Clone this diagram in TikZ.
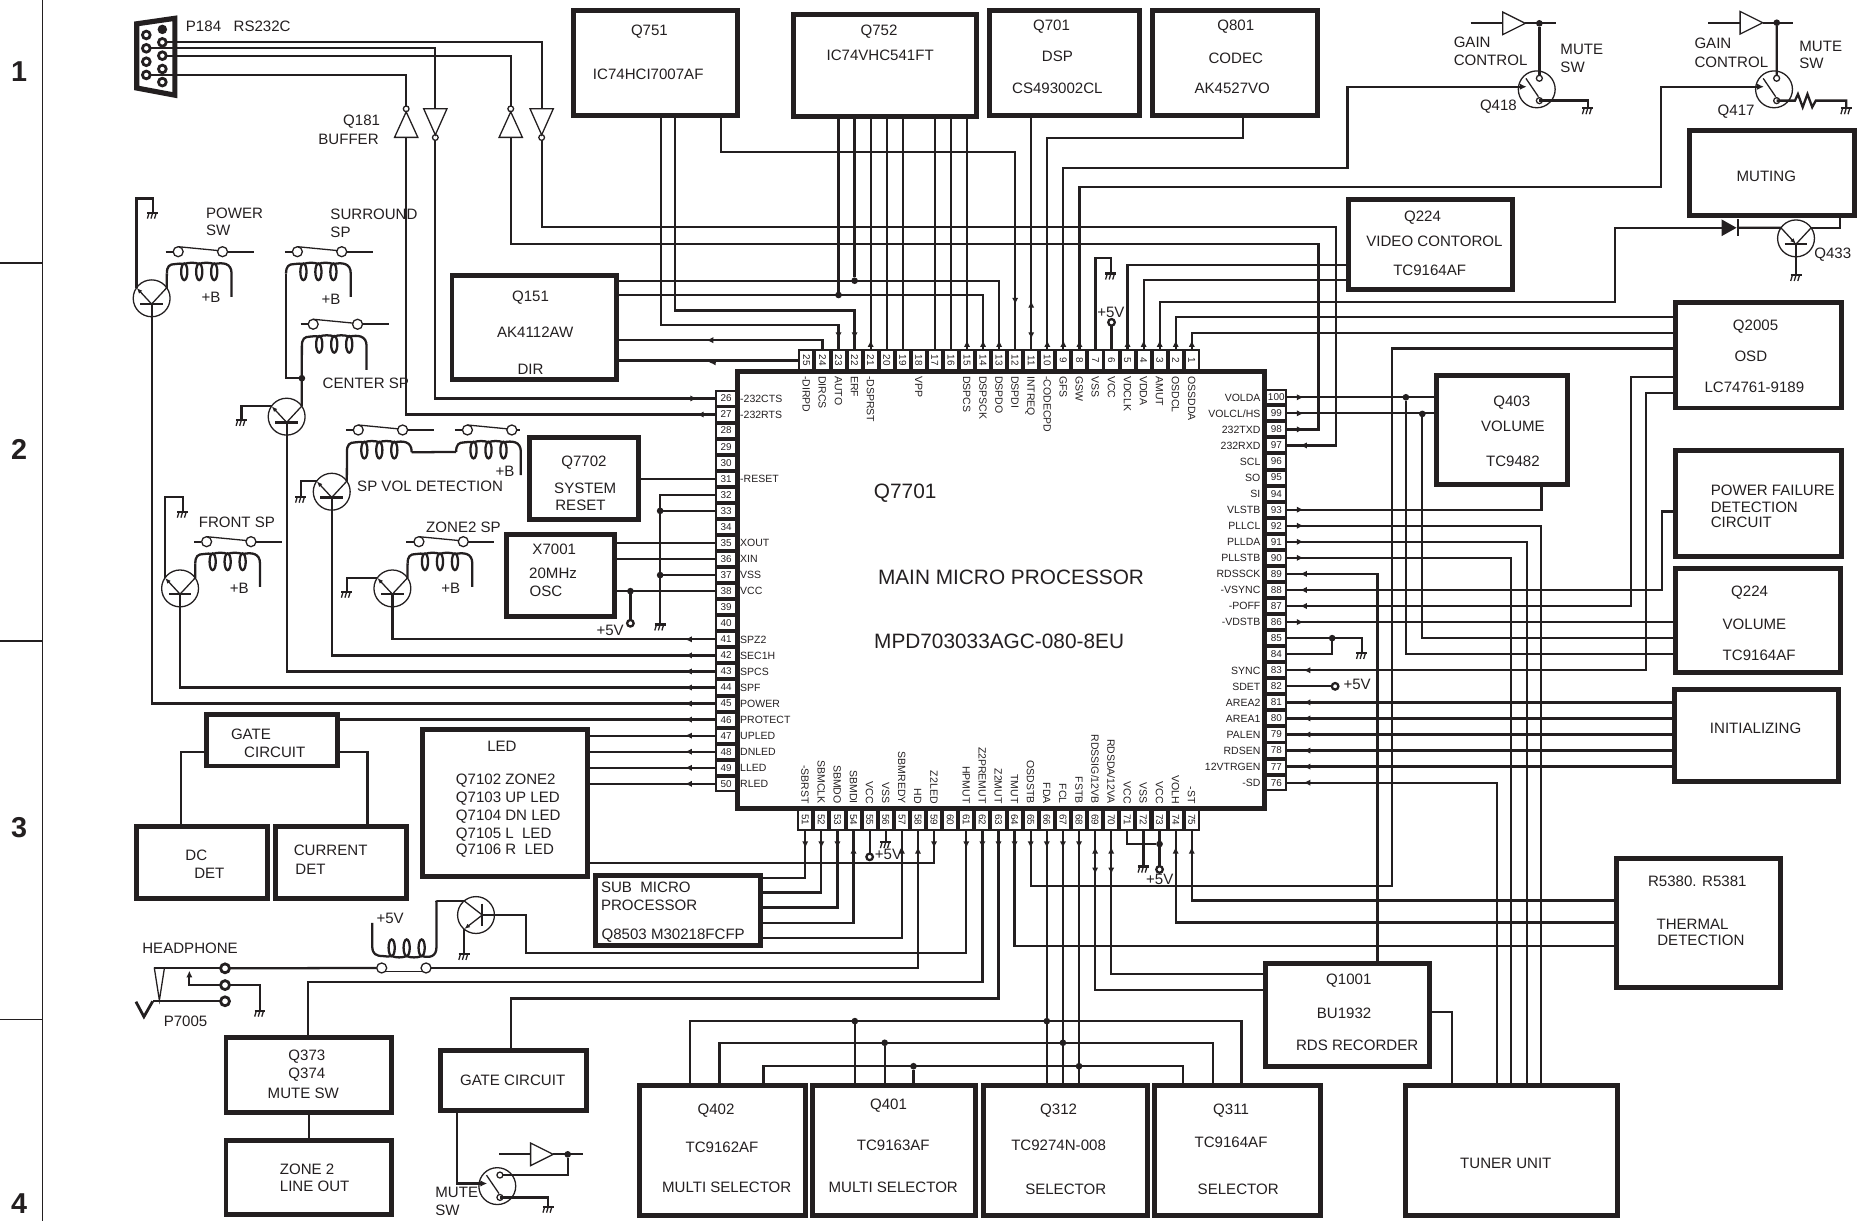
\documentclass[tikz,border=0pt]{standalone}
\usepackage{fontspec}
\setmainfont{Liberation Sans}
\usepackage{graphicx}
\usetikzlibrary{arrows.meta, calc}
\definecolor{ink}{RGB}{35, 31, 32}
\def\unit{.6pt}
\newcommand{\qnpn}[3]{%
  \node[trans] (#1) at (#2,#3) {};
  \coordinate (#1b) at ($(#1)+(0,4.8)$);
  \draw[wire] ($(#1b)+(-9.5,0)$) -- ($(#1b)+(9.5,0)$);
  \draw[wire] (#1b) -- (#1.south);
  \draw[hair, -{Latex[length=3pt,width=2.2pt]}] (#1b) -- (#1.145);
  \draw[hair] (#1b) -- (#1.35);
}
\begin{document}
\begin{tikzpicture}[x=.6pt, y=-.6pt, color=ink,
    wire/.style={line width=1.15pt},
    hair/.style={line width=.65pt},
    flow/.style={line width=1.15pt, -{Latex[length=3.4pt,width=3.2pt]}},
    blk/.style 2 args={draw, line width=2.5pt, minimum width=#1*\unit, minimum height=#2*\unit,
                       inner sep=0pt, outer sep=0pt},
    pinv/.style={draw, line width=1.1pt, minimum width=12*\unit, minimum height=17*\unit,
                 inner sep=0pt, outer sep=0pt, font=\fontsize{5}{5}\selectfont},
    pinh/.style={pinv, minimum width=17*\unit, minimum height=12*\unit},
    pintxt/.style={inner sep=0pt, text height=3.8pt, text depth=0pt, font=\fontsize{5.3}{6}\selectfont},
    txt/.style={inner sep=0pt, text height=5.5pt, text depth=0pt, font=\fontsize{7.6}{9}\selectfont},
    bigtxt/.style={inner sep=0pt, text height=7.6pt, text depth=0pt, font=\fontsize{10.5}{12}\selectfont},
    zone/.style={inner sep=0pt, font=\fontsize{14.5}{16}\selectfont\bfseries},
    trans/.style={circle, draw, line width=.65pt, minimum size=31*\unit, inner sep=0pt, outer sep=0pt},
    jdot/.style={circle, fill, minimum size=5.6*\unit, inner sep=0pt, outer sep=0pt},
    term/.style={circle, draw, fill=white, line width=1.15pt, minimum size=5.5*\unit, inner sep=0pt, outer sep=0pt},
    jackterm/.style={term, line width=1.4pt, minimum size=7.5*\unit},
    contact/.style={circle, draw, fill=white, line width=.65pt, minimum size=8.4*\unit, inner sep=0pt, outer sep=0pt},
    gnd/.pic={
      \coordinate (-a) at (0,0);
      \draw[wire] (-4.6,0) -- (4.6,0);
      \foreach \h in {-3,0,3} \draw[hair] (\h,0) -- (\h-1.5,5);
    },
    invup/.pic={
      \coordinate (-a) at (0,-26.5);
      \coordinate (-b) at (0,0);
      \draw[hair] (-9.8,0) -- (9.8,0) -- (0,-21.5) -- cycle;
      \draw[hair] (0,-24) circle (2.4);
    },
    invdown/.pic={
      \coordinate (-a) at (0,0);
      \coordinate (-b) at (0,26.5);
      \draw[hair] (-9.8,0) -- (9.8,0) -- (0,22) -- cycle;
      \draw[hair] (0,24.2) circle (2.4);
    },
    ampl/.pic={
      \coordinate (-in) at (0,0);
      \coordinate (-out) at (19,0);
      \draw[hair] (0,-9.5) -- (0,9.5) -- (19,0) -- cycle;
    },
    diode/.pic={
      \coordinate (-a) at (0,0);
      \coordinate (-b) at (13.5,0);
      \fill (0,-7) -- (0,7) -- (12.5,0) -- cycle;
      \draw[wire] (13.5,-7) -- (13.5,7);
    },
    muteswitch/.pic={
      \coordinate (-in) at (-8.5,-2.2);
      \coordinate (-top) at (2.2,-11.8);
      \coordinate (-bot) at (2.2,9.5);
      \draw[hair] (0,0) circle (15.5);
      \draw[hair] (-9.1,-9.2) -- (1.4,6.2);
      \draw[hair, fill=white] (2.2,-9.3) circle (2.5);
      \draw[hair, fill=white] (2.2,9.5) circle (2.5);
    },
    pics/relaysw/.style 2 args={code={
      \coordinate (-l) at (0,8);
      \coordinate (-r) at (54.4,#2);
      \draw[wire] (-1,-10.4) -- (5,-10.4);
      \draw[wire] (51,-10.4) -- (#1,-10.4);
      \draw[hair] (9.5,-14.6) -- (46.8,-11);
      \draw[hair, fill=white] (9.5,-10.4) circle (4.2);
      \draw[hair, fill=white] (46.8,-10.4) circle (4.2);
      \draw[wire] (0,8) .. controls (0,2) and (2,0) .. (7,0)
        .. controls (10,0) and (12,-1) .. (14.6,0)
        .. controls (18,-1.5) and (24,-1.5) .. (27.2,0)
        .. controls (30,-1.5) and (36,-1.5) .. (39.8,0)
        .. controls (47,-1.5) and (54.4,-1) .. (54.4,8) -- (-r);
      \foreach \c in {14.6,27.2,39.8} \draw[wire] (\c,6.5) ellipse (2.6 and 7);
    }},
    hpcoil/.pic={
      \coordinate (-l) at (0,-28);
      \coordinate (-r) at (54,-46.5);
      \draw[wire] (-l) -- (0,-8) .. controls (0,-2) and (3,0) .. (9,0)
        .. controls (12,0) and (14,1) .. (16.3,0)
        .. controls (20,1.5) and (25,1.5) .. (28.9,0)
        .. controls (32,1.5) and (38,1.5) .. (41.5,0)
        .. controls (48,1.5) and (54,1) .. (54,-8) -- (-r);
      \foreach \c in {16.3,28.9,41.5} \draw[wire] (\c,-7) ellipse (2.6 and 7);
    },
]
  \useasboundingbox (0,0) rectangle (1568,1026.6);

  \coordinate (stripa) at (36,0);
  \coordinate (stripb) at (36,1026.6);
  \draw[hair] (stripa) -- (stripb);
  \foreach \i in {221,539,857} \draw[hair] (0,\i) -- (36,\i);
  \node[zone] (z1) at (16,60)   {1};
  \node[zone] (z2) at (16,378)  {2};
  \node[zone] (z3) at (16,696)  {3};
  \node[zone] (z4) at (16,1012) {4};

  \node[blk={443}{368}] (q7701)  at (841.5,496)  {};
  \node[blk={138}{88}]  (q751)   at (551,53)     {};
  \node[blk={154}{86}]  (q752)   at (744,55)     {};
  \node[blk={126}{88}]  (q701)   at (895,53)     {};
  \node[blk={139}{88}]  (q801)   at (1038.5,53)  {};
  \node[blk={138}{75}]  (q224a)  at (1203,205.5) {};
  \node[blk={138}{87}]  (q151)   at (449,275.5)  {};
  \node[blk={92}{69}]   (q7702)  at (491,402.5)  {};
  \node[blk={91}{69}]   (x7001)  at (471.5,483.5) {};
  \node[blk={139}{124}] (led)    at (424.5,675)  {};
  \node[blk={110}{43}]  (gate1)  at (229,622.5)  {};
  \node[blk={110}{60}]  (dcdet)  at (170,725)    {};
  \node[blk={110}{60}]  (curdet) at (287,725)    {};
  \node[blk={138}{59}]  (sub)    at (570,765.5)  {};
  \node[blk={139}{63}]  (q373)   at (259.5,903.5) {};
  \node[blk={139}{62}]  (zone2)  at (259.5,990)  {};
  \node[blk={123}{51}]  (gate2)  at (431.5,908.5) {};
  \node[blk={139}{109}] (q402)   at (607.5,967.5) {};
  \node[blk={137}{109}] (q401)   at (751.5,967.5) {};
  \node[blk={138}{109}] (q312)   at (896,967.5)  {};
  \node[blk={139}{109}] (q311)   at (1040.5,967.5) {};
  \node[blk={178}{109}] (tuner)  at (1271,967.5) {};
  \node[blk={138}{87}]  (q1001)  at (1133,853.5) {};
  \node[blk={138}{108}] (r5380)  at (1428,776)   {};
  \node[blk={138}{77}]  (init)   at (1477,618.5) {};
  \node[blk={138}{87}]  (q224b)  at (1478,521.5) {};
  \node[blk={139}{89}]  (pfail)  at (1478.5,423.5) {};
  \node[blk={139}{89}]  (q2005)  at (1478.5,298.5) {};
  \node[blk={110}{91}]  (q403)   at (1263,361.5) {};
  \node[blk={139}{71}]  (muting) at (1490,145.5) {};

  \foreach \n in {1,...,25} {
    \pgfmathsetmacro\pos{1002-(\n-1)*13.5}
    \node[pinv] (p\n) at (\pos,303) {\rotatebox{-90}{\n}};
  }
  \foreach \n in {26,...,50} {
    \pgfmathsetmacro\pos{335+(\n-26)*13.5}
    \node[pinh] (p\n) at (610.5,\pos) {\n};
  }
  \foreach \n in {51,...,75} {
    \pgfmathsetmacro\pos{677+(\n-51)*13.54}
    \node[pinv] (p\n) at (\pos,689) {\rotatebox{-90}{\n}};
  }
  \foreach \n in {76,...,100} {
    \pgfmathsetmacro\pos{334+(100-\n)*13.5}
    \node[pinh] (p\n) at (1073,\pos) {\n};
  }

  \foreach \n/\t in {25/-DIRPD,24/DIRCS,23/AUTO,22/ERF,21/-DSPRST,18/VPP,15/DSPCS,14/DSPSCK,13/DSPDO,
                     12/DSPDI,11/INTREQ,10/-CODECPD,9/GFS,8/GSW,7/VSS,6/VCC,5/VDCLK,4/VDDA,3/AMUT,
                     2/OSDCL,1/OSSDDA}
    \node[pintxt, rotate=-90, anchor=west] (l\n) at (p\n.south |- 0,316) {\t};
  \foreach \n/\t in {26/-232CTS,27/-232RTS,31/-RESET,35/XOUT,36/XIN,37/VSS,38/VCC,41/SPZ2,42/SEC1H,43/SPCS,
                     44/SPF,45/POWER,46/PROTECT,47/UPLED,48/DNLED,49/LLED,50/RLED}
    \node[pintxt, anchor=west] (l\n) at (p\n.east -| 622,0) {\t};
  \foreach \n/\t in {51/-SBRST,52/SBMCLK,53/SBMDO,54/SBMDI,55/VCC,56/VSS,57/SBMREDY,58/HD,59/Z2LED,61/HPMUT,
                     62/Z2PREMUT,63/Z2MUT,64/TMUT,65/OSDSTB,66/FDA,67/FCL,68/FSTB,71/VCC,72/VSS,73/VCC,
                     74/VOLH,75/-ST}
    \node[pintxt, rotate=-90, anchor=east] (l\n) at (p\n.north |- 0,676) {\t};
  \node[pintxt, rotate=-90, anchor=east] (l69) at (p69.north |- 0,676) {RDSSIG/12VB};
  \node[pintxt, rotate=-90, anchor=east] (l70) at (p70.north |- 0,676) {RDSDA/12VA};
  \foreach \n/\t in {100/VOLDA,98/232TXD,97/232RXD,96/SCL,95/SO,94/SI,93/VLSTB,92/PLLCL,91/PLLDA,90/PLLSTB,
                     89/RDSSCK,88/-VSYNC,87/-POFF,86/-VDSTB,83/SYNC,82/SDET,81/AREA2,80/AREA1,79/PALEN,
                     78/RDSEN,77/12VTRGEN,76/-SD}
    \node[pintxt, anchor=east] (l\n) at (p\n.west -| 1060,0) {\t};
  \node[pintxt, anchor=east] (l99) at (p99.west -| 1060,0) {VOLCL/HS};

  \node[bigtxt] (t7701a) at (761,413) {Q7701};
  \node[bigtxt] (t7701b) at (850,485) {MAIN MICRO PROCESSOR};
  \node[bigtxt] (t7701c) at (840,539) {MPD703033AGC-080-8EU};
  \node[txt] (t751a) at (546,25) {Q751};
  \node[txt] (t751b) at (545,62) {IC74HCI7007AF};
  \node[txt] (t752a) at (739,25) {Q752};
  \node[txt] (t752b) at (740,46) {IC74VHC541FT};
  \node[txt] (t701a) at (884,21) {Q701};
  \node[txt] (t701b) at (889,47) {DSP};
  \node[txt] (t701c) at (889,74) {CS493002CL};
  \node[txt] (t801a) at (1039,21) {Q801};
  \node[txt] (t801b) at (1039,49) {CODEC};
  \node[txt] (t801c) at (1036,74) {AK4527VO};
  \node[txt] (t224a) at (1196,182) {Q224};
  \node[txt] (t224b) at (1206,203) {VIDEO CONTOROL};
  \node[txt] (t224c) at (1202,227) {TC9164AF};
  \node[txt] (t151a) at (446,249) {Q151};
  \node[txt] (t151b) at (450,279) {AK4112AW};
  \node[txt] (t151c) at (446,310) {DIR};
  \node[txt] (t7702a) at (491,388) {Q7702};
  \node[txt] (t7702b) at (492,410) {SYSTEM};
  \node[txt] (t7702c) at (488,425) {RESET};
  \node[txt] (tx701a) at (466,462) {X7001};
  \node[txt] (tx701b) at (465,482) {20MHz};
  \node[txt] (tx701c) at (459,497) {OSC};
  \node[txt] (tleda) at (422,627) {LED};
  \node[txt, anchor=west] (tledb) at (383,655) {Q7102 ZONE2};
  \node[txt, anchor=west] (tledc) at (383,670) {Q7103 UP LED};
  \node[txt, anchor=west] (tledd) at (383,685) {Q7104 DN LED};
  \node[txt, anchor=west] (tlede) at (383,700) {Q7105 L\ \ LED};
  \node[txt, anchor=west] (tledf) at (383,714) {Q7106 R\ \ LED};
  \node[txt] (tgate1a) at (211,617) {GATE};
  \node[txt] (tgate1b) at (231,632) {CIRCUIT};
  \node[txt] (tdca) at (165,719) {DC};
  \node[txt] (tdcb) at (176,734) {DET};
  \node[txt] (tcura) at (278,715) {CURRENT};
  \node[txt] (tcurb) at (261,731) {DET};
  \node[txt, anchor=west] (tsuba) at (505,746) {SUB\ \ MICRO};
  \node[txt, anchor=west] (tsubb) at (505,761) {PROCESSOR};
  \node[txt] (tsubc) at (566,785) {Q8503 M30218FCFP};
  \node[txt] (t373a) at (258,887) {Q373};
  \node[txt] (t373b) at (258,902) {Q374};
  \node[txt] (t373c) at (255,919) {MUTE SW};
  \node[txt, anchor=west] (tzonea) at (235,983) {ZONE 2};
  \node[txt, anchor=west] (tzoneb) at (235,997) {LINE OUT};
  \node[txt] (tgate2) at (431,908) {GATE CIRCUIT};
  \node[txt] (t402a) at (602,932) {Q402};
  \node[txt] (t402b) at (607,964) {TC9162AF};
  \node[txt] (t402c) at (611,998) {MULTI SELECTOR};
  \node[txt] (t401a) at (747,928) {Q401};
  \node[txt] (t401b) at (751,963) {TC9163AF};
  \node[txt] (t401c) at (751,998) {MULTI SELECTOR};
  \node[txt] (t312a) at (890,932) {Q312};
  \node[txt] (t312b) at (890,963) {TC9274N-008};
  \node[txt] (t312c) at (896,1000) {SELECTOR};
  \node[txt] (t311a) at (1035,932) {Q311};
  \node[txt] (t311b) at (1035,960) {TC9164AF};
  \node[txt] (t311c) at (1041,1000) {SELECTOR};
  \node[txt] (ttuner) at (1266,978) {TUNER UNIT};
  \node[txt] (t1001a) at (1134,823) {Q1001};
  \node[txt] (t1001b) at (1130,852) {BU1932};
  \node[txt] (t1001c) at (1141,879) {RDS RECORDER};
  \node[txt] (t5380a) at (1427,741) {R5380. R5381};
  \node[txt] (t5380b) at (1423,777) {THERMAL};
  \node[txt] (t5380c) at (1430,790) {DETECTION};
  \node[txt] (tinit) at (1476,612) {INITIALIZING};
  \node[txt] (t224d) at (1471,497) {Q224};
  \node[txt] (t224e) at (1475,525) {VOLUME};
  \node[txt] (t224f) at (1479,551) {TC9164AF};
  \node[txt, anchor=west] (tpfa) at (1438,412) {POWER FAILURE};
  \node[txt, anchor=west] (tpfb) at (1438,426) {DETECTION};
  \node[txt, anchor=west] (tpfc) at (1438,439) {CIRCUIT};
  \node[txt] (t2005a) at (1476,273) {Q2005};
  \node[txt] (t2005b) at (1472,299) {OSD};
  \node[txt] (t2005c) at (1475,325) {LC74761-9189};
  \node[txt] (t403a) at (1271,337) {Q403};
  \node[txt] (t403b) at (1272,358) {VOLUME};
  \node[txt] (t403c) at (1272,388) {TC9482};
  \node[txt] (tmuting) at (1485,148) {MUTING};

  \node[txt, anchor=west] (tp184) at (156,22) {P184\ \ \ RS232C};
  \node[txt] (tq181a) at (304,101) {Q181};
  \node[txt] (tq181b) at (293,117) {BUFFER};
  \node[txt, anchor=west] (tpowa) at (173,179) {POWER};
  \node[txt, anchor=west] (tpowb) at (173,193) {SW};
  \node[txt, anchor=west] (tsura) at (277.5,180) {SURROUND};
  \node[txt, anchor=west] (tsurb) at (277.5,195) {SP};
  \node[txt] (tb1) at (177.4,250) {+B};
  \node[txt] (tb2) at (278.3,251) {+B};
  \node[txt, anchor=west] (tcen) at (271,322) {CENTER SP};
  \node[txt] (tb3) at (424.6,396) {+B};
  \node[txt, anchor=west] (tvol) at (300,408.3) {SP VOL DETECTION};
  \node[txt, anchor=west] (tfro) at (166.8,438.5) {FRONT SP};
  \node[txt] (tb4) at (201.2,494.7) {+B};
  \node[txt, anchor=west] (tz2) at (358,443.5) {ZONE2 SP};
  \node[txt] (tb5) at (379,494.7) {+B};
  \node[txt] (thp) at (159.8,796.8) {HEADPHONE};
  \node[txt] (tp7005) at (156,858.5) {P7005};
  \node[txt] (tv1) at (328,772) {+5V};
  \node[txt, anchor=west] (tmutea) at (365.7,1002.5) {MUTE};
  \node[txt, anchor=west] (tmuteb) at (365.7,1017.4) {SW};
  \node[txt, anchor=west] (tgaina) at (1221.9,35) {GAIN};
  \node[txt, anchor=west] (tgainb) at (1221.9,50.4) {CONTROL};
  \node[txt, anchor=west] (tm418a) at (1311.6,41.2) {MUTE};
  \node[txt, anchor=west] (tm418b) at (1311.6,56) {SW};
  \node[txt] (tq418) at (1259.8,88.3) {Q418};
  \node[txt, anchor=west] (tgainc) at (1424.3,36.4) {GAIN};
  \node[txt, anchor=west] (tgaind) at (1424.3,51.8) {CONTROL};
  \node[txt, anchor=west] (tm417a) at (1512.5,38.4) {MUTE};
  \node[txt, anchor=west] (tm417b) at (1512.5,53.2) {SW};
  \node[txt] (tq417) at (1459.6,92.5) {Q417};
  \node[txt, anchor=west] (tq433) at (1525,212.4) {Q433};
  \node[txt] (tv6) at (934,262) {+5V};
  \node[txt] (tv38) at (513,530) {+5V};
  \node[txt] (tv55) at (747,718) {+5V};
  \node[txt] (tv73) at (975,739) {+5V};
  \node[txt] (tv82) at (1141,575) {+5V};

  \draw[line width=2.6pt, fill=white] (115,20) -- (147,15.4) -- (147,80) -- (115,74) -- cycle;
  \foreach \n/\x/\y in {ca/123/29.4,cb/123/40.6,cc/123/51.9,cd/123/63,ce/136.5/35.6,cf/136.5/46.8,cg/136.5/58,ch/136.5/69}
    \node[jackterm, minimum size=6.5*\unit] (\n) at (\x,\y) {};
  \node[jdot, minimum size=8*\unit] (ci) at (136.5,24.7) {};

  \pic (b1) at (341.5,115.5) {invup};
  \pic (b2) at (366,91.4)    {invdown};
  \pic (b3) at (429.4,115.5) {invup};
  \pic (b4) at (455.4,91.4)  {invdown};
  \draw[wire] (cd.east) -| (b1-a);
  \draw[wire] (cb.east) -| (b2-a);
  \draw[wire] (cf.east) -| (b3-a);
  \draw[wire] (ce.east) -| (b4-a);
  \draw[wire] (p27.west) -| (b1-b);
  \draw[wire] (p26.west) -| (b2-b);
  \draw[wire] (p98.east) -| (1108.5,205.4) -| (b3-b);
  \draw[wire] (p97.east) -| (1123.3,191) -| (b4-b);

  \draw[wire] (p25.west) -- (q151.east |- p25.west);
  \draw[wire] (p24.north) |- (q151.east |- 0,286);
  \draw[wire] (p23.north) |- (555.7,273) -- (q751.south -| 555.7,0);
  \draw[wire] (p22.north) |- (567.5,261) -- (q751.south -| 567.5,0);
  \foreach \n in {21,20,19,17,16,15}
    \draw[wire] (p\n.north) -- (q752.south -| p\n.north);
  \node[jdot] (d23) at (705,248) {};
  \node[jdot] (d22) at (718.5,236) {};
  \draw[wire] (d23) -- (q752.south -| d23);
  \draw[wire] (d22) -- (q752.south -| d22);
  \draw[wire] (p14.north) |- (q151.east |- 0,248);
  \draw[wire] (p13.north) |- (q151.east |- 0,236);
  \draw[wire] (p12.north) |- (606,128) -- (q751.south -| 606,0);
  \draw[wire] (p11.north) -- (q701.south -| p11.north);
  \draw[wire] (p10.north) |- (1045,116) -- (q801.south -| 1045,0);

  \pic (q418) at (1292,75.1) {muteswitch};
  \pic (q417) at (1491.5,75.1) {muteswitch};
  \pic (a418) at (1263.4,19.6) {ampl};
  \pic (a417) at (1463,19.1) {ampl};
  \node[jdot] (d418) at (1294.2,19.6) {};
  \node[jdot] (d417) at (1493.8,19.1) {};
  \coordinate (a418l) at (1236.5,19.6);
  \coordinate (a418r) at (1308.2,19.6);
  \coordinate (a417l) at (1436.3,19.1);
  \coordinate (a417r) at (1507.8,19.1);
  \draw[wire] (a418l) -- (a418-in);
  \draw[wire] (a418-out) -- (a418r);
  \draw[wire] (a417l) -- (a417-in);
  \draw[wire] (a417-out) -- (a417r);
  \draw[wire] (d418) -- (q418-top);
  \draw[wire] (d417) -- (q417-top);
  \pic (g418) at (1334.9,91) {gnd};
  \pic (g417) at (1552.2,91) {gnd};
  \draw[wire] (q418-bot) -| (g418-a);
  \draw[wire] (q417-bot) -- ++(15.4,0) -- ++(2.5,-5.5) -- ++(4,11) -- ++(4,-11) -- ++(4,11) -- ++(3,-5.5) -| (g417-a);
  \draw[flow] (p9.north) |- (1133,141.5) |- (q418-in);
  \draw[flow] (p8.north) |- (1396.5,157.5) |- (q417-in);

  \pic (g7) at (934,230) {gnd};
  \draw[wire] (p7.north) |- (g7-a |- 0,217) -- (g7-a);
  \node[term] (v6) at (934.5,271) {};
  \draw[wire] (p6.north) -- (v6);
  \draw[wire] (p5.north) |- (q224a.west |- 0,222.8);
  \draw[wire] (p4.north) |- (q224a.west |- 0,235.4);
  \pic (dio) at (1447.5,191.5) {diode};
  \draw[wire] (p3.north) |- (1358,253.7) |- (dio-a);
  \draw[wire] (p2.north) |- (q2005.west |- 0,266.8);
  \draw[wire] (p1.north) |- (q2005.west |- 0,279.8);
  \node[trans] (q433) at (1510,200.4) {};
  \coordinate (q433b) at (1510,205.2);
  \draw[wire] (1500.5,205.2) -- (1519.5,205.2);
  \draw[hair, -{Latex[length=3pt,width=2.2pt]}] (q433.145) -- (q433b);
  \draw[hair] (q433b) -- (q433.35);
  \draw[wire] (dio-b) -- (q433.145);
  \draw[wire] (muting.south -| 1547,0) |- (q433.35);
  \pic (g433) at (1510,231.2) {gnd};
  \draw[wire] (q433b) -- (g433-a);
  \draw[wire] (p65.south) |- (1170.5,745) |- (q2005.west |- 0,293);

  \node[jdot] (d100) at (1182,334) {};
  \node[jdot] (d99) at (1195.8,348) {};
  \draw[wire] (p100.east) -- (q403.west |- p100.east);
  \draw[wire] (p99.east) -- (q403.west |- p99.east);
  \draw[wire] (d100) |- (q224b.west |- 0,550);
  \draw[wire] (d99) |- (q224b.west |- 0,536.6);
  \draw[wire] (p93.east) -| (q403.south -| 1296,0);
  \draw[wire] (p92.east) -| (tuner.north -| 1295.3,0);
  \draw[wire] (p91.east) -| (tuner.north -| 1283.6,0);
  \draw[wire] (p90.east) -| (tuner.north -| 1270.6,0);
  \draw[wire] (p76.east) -| (tuner.north -| 1258.4,0);
  \draw[wire] (p89.east) -| (q1001.north -| 1158,0);
  \draw[wire] (p88.east) -| (1397,430) -- (pfail.west |- 0,430);
  \draw[wire] (p87.east) -| (1371.3,317) -- (q2005.west |- 0,317);
  \draw[wire] (p83.east) -| (1383.6,330.6) -- (q2005.west |- 0,330.6);
  \draw[wire] (p86.east) -- (q224b.west |- p86.east);
  \pic (g85) at (1145,549) {gnd};
  \node[jdot] (d85) at (p85.east -| 1120,0) {};
  \draw[wire] (p85.east) -| (g85-a);
  \draw[wire] (p84.east) -| (d85);
  \node[term] (v82) at (1122.5,577) {};
  \draw[wire] (p82.east) -- (v82);
  \foreach \n in {81,...,77}
    \draw[wire] (p\n.east) -- (init.west |- p\n.east);

  \draw[wire] (p51.south) |- (sub.east |- 0,738);
  \draw[wire] (p52.south) |- (sub.east |- 0,750.3);
  \draw[wire] (p53.south) |- (sub.east |- 0,763);
  \draw[wire] (p54.south) |- (sub.east |- 0,775.7);
  \draw[wire] (p57.south) |- (sub.east |- 0,788.8);
  \node[term] (v55) at (p55.south |- 0,720.4) {};
  \draw[wire] (p55.south) -- (v55);
  \pic (g56) at (p56.south |- 0,708) {gnd};
  \draw[wire] (p56.south) -- (g56-a);
  \draw[wire] (p59.south) |- (led.east |- 0,725.8);
  \draw[wire] (p62.south) |- (259,825.4) -- (q373.north -| 259,0);
  \draw[wire] (p63.south) |- (429.7,839.4) -- (gate2.north -| 429.7,0);
  \draw[wire] (p64.south) |- (r5380.west |- 0,795.4);
  \draw[wire] (p74.south) |- (r5380.west |- 0,775.5);
  \draw[wire] (p75.south) |- (r5380.west |- 0,757);
  \foreach \n in {66,67,68}
    \draw[wire] (p\n.south) -- (q312.north -| p\n.south);
  \draw[wire] (q402.north -| 580,0) |- (1043.7,858.5) -- (q311.north -| 1043.7,0);
  \draw[wire] (q402.north -| 605,0) |- (1020,876.7) -- (q311.north -| 1020,0);
  \draw[wire] (q402.north -| 642,0) |- (994.8,896.4) -- (q311.north -| 994.8,0);
  \node[jdot] (d66) at (p66.south |- 0,858.5) {};
  \node[jdot] (d67) at (p67.south |- 0,876.7) {};
  \node[jdot] (d68) at (p68.south |- 0,896.4) {};
  \node[jdot] (d401a) at (718.7,858.5) {};
  \node[jdot] (d401b) at (743.8,876.7) {};
  \node[jdot] (d401c) at (768,896.4) {};
  \draw[wire] (d401a) -- (q401.north -| d401a);
  \draw[wire] (d401b) -- (q401.north -| d401b);
  \draw[wire] (d401c) -- (q401.north -| d401c);
  \draw[wire] (p69.south) |- (q1001.west |- 0,832.4);
  \draw[wire] (p70.south) |- (q1001.west |- 0,819);
  \node[jdot] (d73) at (p73.south |- 0,709.6) {};
  \draw[wire] (p71.south) |- (d73);
  \node[term] (v73) at (p73.south |- 0,731) {};
  \draw[wire] (p73.south) -- (v73);
  \pic (g72) at (p72.south |- 0,728.6) {gnd};
  \draw[wire] (p72.south) -- (g72-a);
  \draw[wire] (q1001.east |- 0,850.6) -| (tuner.north -| 1220.6,0);

  \draw[wire] (p31.west) -- (q7702.east |- p31.west);
  \pic (g32) at (555,525) {gnd};
  \node[jdot] (d33) at (p33.west -| 555,0) {};
  \node[jdot] (d37) at (p37.west -| 555,0) {};
  \draw[wire] (p32.west) -| (g32-a);
  \draw[wire] (p33.west) -- (d33);
  \draw[wire] (p37.west) -- (d37);
  \draw[wire] (p35.west) -- (x7001.east |- p35.west);
  \draw[wire] (p36.west) -- (x7001.east |- p36.west);
  \draw[wire] (p38.west) -- (x7001.east |- p38.west);
  \node[jdot] (d38) at (p38.west -| 530,0) {};
  \node[term] (v38) at (530,524) {};
  \draw[wire] (d38) -- (v38);
  \draw[wire] (p46.west) -- (gate1.east |- p46.west);
  \foreach \n in {47,...,50}
    \draw[wire] (p\n.west) -- (led.east |- p\n.west);
  \draw[wire] (gate1.west |- 0,632) -| (dcdet.north -| 152,0);
  \draw[wire] (gate1.east |- 0,632) -| (curdet.north -| 309,0);
  \draw[wire] (q373.south) -- (zone2.north);

  \qnpn{t1}{127.5}{250.8}
  \qnpn{t2}{241}{350.3}
  \qnpn{t3}{278.9}{413.4}
  \qnpn{t4}{151.4}{494.7}
  \qnpn{t5}{329.9}{494.7}
  \draw[wire] (p45.west) -| (t1.south);
  \draw[wire] (p43.west) -| (t2.south);
  \draw[wire] (p42.west) -| (t3.south);
  \draw[wire] (p44.west) -| (t4.south);
  \draw[wire] (p41.west) -| (t5.south);
  \pic (r1) at (140.3,222)   {relaysw={73}{27.5}};
  \pic (r2) at (240.5,222)   {relaysw={73}{27.5}};
  \pic (r3) at (253.8,283)   {relaysw={73}{28}};
  \pic (r4) at (291.7,371.9) {relaysw={73}{8.4}};
  \pic (r5) at (383.5,371.9) {relaysw={54}{27.5}};
  \pic (r6) at (164.2,465.8) {relaysw={73}{27.5}};
  \pic (r7) at (342.7,465.8) {relaysw={73}{27.5}};
  \draw[wire] (t1.35) -- (r1-l);
  \node[jdot] (d2) at (253.8,318) {};
  \draw[wire] (r2-l) |- (d2);
  \draw[wire] (t2.35) -- (r3-l);
  \draw[wire] (t3.35) -- (r4-l);
  \draw[wire] (r4-r) -- (r5-l);
  \draw[wire] (t4.35) -- (r6-l);
  \draw[wire] (t5.35) -- (r7-l);
  \pic (gt1) at (128.4,178.8) {gnd};
  \pic (gt2) at (203,353)     {gnd};
  \pic (gt3) at (253,417.6)   {gnd};
  \pic (gt4) at (153.6,430.2) {gnd};
  \pic (gt5) at (291.5,497.5) {gnd};
  \draw[wire] (t1.145) |- (128.4,166.8) -- (gt1-a);
  \draw[wire] (t2.145) -| (gt2-a);
  \draw[wire] (t3.145) -| (gt3-a);
  \draw[wire] (t4.145) |- (153.6,417.6) -- (gt4-a);
  \draw[wire] (t5.145) -| (gt5-a);

  \node[trans] (t6) at (400.2,769.3) {};
  \coordinate (t6b) at (405.5,769.3);
  \draw[wire] (405.5,759.8) -- (405.5,778.8);
  \draw[hair] (t6b) -- (t6.130);
  \draw[hair, -{Latex[length=3pt,width=2.2pt]}] (t6b) -- (t6.230);
  \pic (hpc) at (313,803.8) {hpcoil};
  \draw[wire] (hpc-r) |- (t6.130);
  \pic (g6) at (t6.230 |- 0,802) {gnd};
  \draw[wire] (t6.230) -- (g6-a);
  \draw[wire] (p61.south) |- (442,801) |- (t6b);

  \node[jackterm] (j1) at (189.2,814.1) {};
  \node[jackterm] (j2) at (189.2,828.2) {};
  \node[jackterm] (j3) at (189.2,841.8) {};
  \node[contact] (k1) at (320.9,813.8) {};
  \node[contact] (k2) at (358.2,813.8) {};
  \draw[hair] (k1.south east) -- (k2.south west);
  \coordinate (jacka) at (129.8,814.1);
  \coordinate (jackb) at (128.4,841.8);
  \draw[wire] (j1.east) -- (k1.west);
  \draw[wire] (k2.east) -| (p58.south);
  \draw[wire] (j1.west) -- (jacka);
  \draw[wire] (j3.west) -- (jackb);
  \draw[hair] (jacka) -- (138.2,814.1) -- (134,841) -- cycle;
  \draw[line width=1.4pt] (114.3,842.2) -- (121,854.8) -- (jackb);
  \draw[flow] (j2.west) -| (159.2,816.1);
  \pic (gj) at (218.6,849.7) {gnd};
  \draw[wire] (j2.east) -| (gj-a);

  \pic (sw3) at (418.1,997.2) {muteswitch};
  \pic (a3) at (446.1,970.5) {ampl};
  \node[jdot] (d3) at (477.3,970.5) {};
  \coordinate (a3l) at (419.8,970.5);
  \coordinate (a3r) at (490.5,970.5);
  \draw[wire] (a3l) -- (a3-in);
  \draw[wire] (a3-out) -- (a3r);
  \draw[wire] ($(sw3-top)+(2.5,2.5)$) -| (d3);
  \pic (g3) at (461,1014.5) {gnd};
  \draw[wire] (sw3-bot) -| (g3-a);
  \draw[flow] (gate2.south -| 384.5,0) |- (sw3-in);

  \foreach \n in {41,...,50}
    \draw[flow] (p\n.west -| 582,0) -- +(-6,0);
  \draw[flow] (p26.west -| 580,0) -- +(6,0);
  \draw[flow] (p27.west -| 592,0) -- +(-6,0);
  \foreach \n in {21,15,14,13,10,9,8,5,4,3,2,1}
    \draw[flow] (p\n.north |- 0,292) -- +(0,-6);
  \foreach \n in {23,22,11}
    \draw[flow] (p\n.north |- 0,279) -- +(0,6);
  \draw[flow] (p12.north |- 0,250) -- +(0,6);
  \draw[flow] (p11.north |- 0,259) -- +(0,-6);
  \draw[flow] (600,286) -- +(-6,0);
  \draw[flow] (602,304.6) -- +(-6,0);
  \foreach \n in {51,52,53,59,61,62,63,64,65,66,67,68}
    \draw[flow] (p\n.south |- 0,707) -- +(0,6);
  \foreach \n in {54,57,58,69,70,74,75}
    \draw[flow] (p\n.south |- 0,718) -- +(0,-6);
  \foreach \n in {69,70}
    \draw[flow] (p\n.south |- 0,729) -- +(0,6);
  \foreach \n in {100,99,98,93,92,91,90,86}
    \draw[flow] (p\n.east -| 1090,0) -- +(6,0);
  \foreach \n in {97,89,88,87}
    \draw[flow] (p\n.east -| 1099,0) -- +(-6,0);
  \foreach \n in {83,81,80,79,78,77,76}
    \draw[flow] (p\n.east -| 1102,0) -- +(-6,0);
\end{tikzpicture}
\end{document}
